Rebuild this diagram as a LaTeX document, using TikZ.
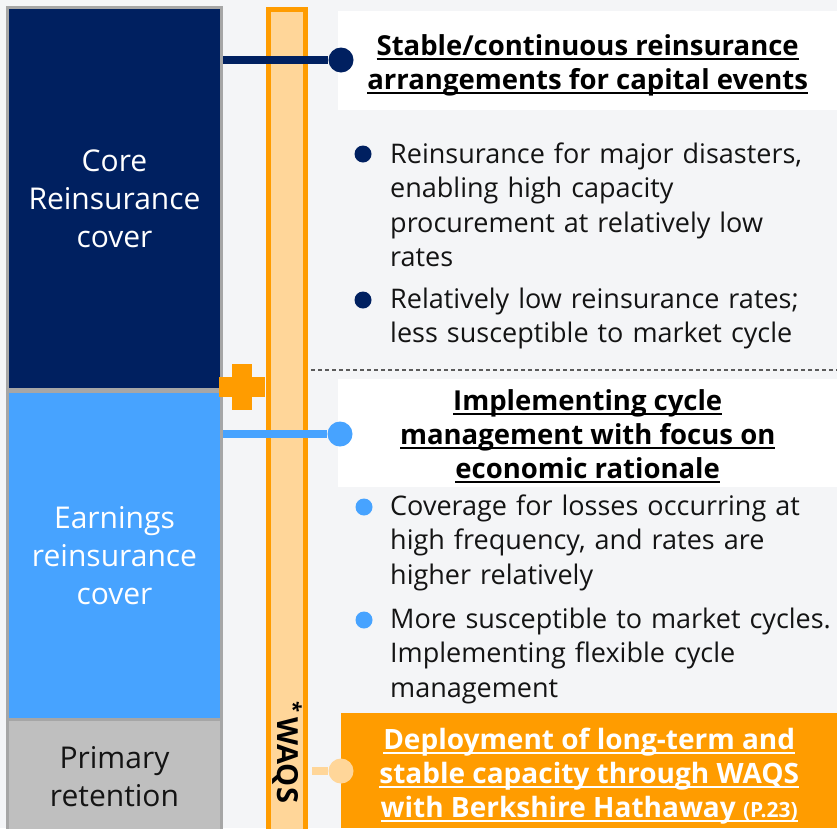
\documentclass[tikz,border=0pt]{standalone}
\usepackage{fontspec}
\setmainfont{Open Sans}
\usetikzlibrary{positioning,calc}
\definecolor{navy}{HTML}{002060}
\definecolor{skyblue}{HTML}{47A3FF}
\definecolor{orangebar}{HTML}{FF9C00}
\definecolor{peach}{HTML}{FFD699}
\definecolor{paper}{HTML}{F4F5F7}
\definecolor{boxgrey}{HTML}{A6A6A6}
\definecolor{retgrey}{HTML}{BFBFBF}
\definecolor{ink}{HTML}{141414}
\newcommand{\ul}[1]{\setbox0\hbox{#1}\rlap{\rule[-5pt]{\wd0}{2pt}}\box0}

\begin{document}
\begin{tikzpicture}[x=1pt,y=-1pt,
	layer/.style={draw=boxgrey,line width=3pt,anchor=north west,minimum width=214pt,
		align=center,inner sep=0pt,font=\fontsize{30}{38}\selectfont},
	card/.style={anchor=north west,minimum width=499pt,inner sep=0pt},
	headtext/.style={inner sep=0pt,align=center,font=\bfseries\fontsize{27.5}{34}\selectfont},
	item/.style={anchor=base west,text width=445pt,align=left,inner sep=0pt,
		text=ink,font=\fontsize{27}{34.5}\selectfont},
	dot/.style={circle,inner sep=0pt,minimum size=25pt},
	bullet/.style={circle,inner sep=0pt,minimum size=17pt},
	link/.style={line width=8pt}
	]
	
	\fill[paper] (0,0) rectangle (837,828);
	\useasboundingbox (0,0) rectangle (837,828);
	
	\node[layer,fill=navy,text=white,minimum height=382pt] (core) at (6,6)
	{Core\\Reinsurance\\cover};
	\node[layer,fill=skyblue,text=white,minimum height=328pt] (earn) at (6,390)
	{Earnings\\reinsurance\\cover};
	\node[layer,fill=retgrey,text=ink,minimum height=114pt] (prim) at (6,718)
	{Primary\\retention};
	
	\draw[orangebar,line width=5pt,fill=peach] (268.5,9.5) rectangle (305.5,835);
	\node[rotate=-90,inner sep=0pt,font=\bfseries\fontsize{29}{30}\selectfont] (waqs)
	at (287,752) {\textsuperscript{*}\hspace{5pt}WAQS};
	
	\fill[orangebar] (219,377) rectangle (265,397);
	\fill[orangebar] (232,364) rectangle (252,410);
	
	\draw[ink!70,line width=1.2pt,dash pattern=on 4pt off 3pt] (311,370) -- (837,370);
	
	\node[card,fill=white,minimum height=99pt] (card1) at (338,11) {};
	\node[card,fill=white,minimum height=108pt] (card2) at (338,379) {};
	\node[card,fill=orangebar,minimum height=115pt,minimum width=496pt] (card3) at (341,713) {};
	
	\node[headtext] (head1) at ([yshift=-4.5pt]card1.center)
	{\ul{Stable/continuous reinsurance}\\\ul{arrangements for capital events}};
	\node[headtext] (head2) at ([yshift=-3pt]card2.center)
	{\ul{Implementing cycle}\\\ul{management with focus on}\\\ul{economic rationale}};
	\node[headtext,text=white,font=\bfseries\fontsize{28}{34}\selectfont] (head3)
	at ([yshift=-5pt]card3.center)
	{\ul{Deployment of long-term and}\\\ul{stable capacity through WAQS}\\
		\ul{with Berkshire Hathaway {\fontsize{21}{21}\selectfont(P.23)}}};
	
	\node[dot,fill=navy] (dotA) at (341,60) {};
	\node[dot,fill=skyblue] (dotB) at (340,434) {};
	\node[dot,fill=peach] (dotC) at (341,771) {};
	\draw[link,navy] (core.east |- dotA) -- (dotA);
	\draw[link,skyblue] (earn.east |- dotB) -- (dotB);
	\draw[link,peach] (312,771) -- (dotC);
	
	\node[item] (itemA) at (390,163)
	{Reinsurance for major disasters,\\enabling high capacity\\procurement at relatively low\\rates};
	\node[item] (itemB) at (390,308)
	{Relatively low reinsurance rates;\\less susceptible to market cycle};
	\node[item] (itemC) at (390,515)
	{Coverage for losses occurring at\\high frequency, and rates are\\higher relatively};
	\node[item] (itemD) at (390,628)
	{More susceptible to market cycles.\\Implementing flexible cycle\\management};
	
	\node[bullet,fill=navy] at (363,154) {};
	\node[bullet,fill=navy] at (363,300) {};
	\node[bullet,fill=skyblue] at (364,507) {};
	\node[bullet,fill=skyblue] at (364,620) {};
	
\end{tikzpicture}
\end{document}
